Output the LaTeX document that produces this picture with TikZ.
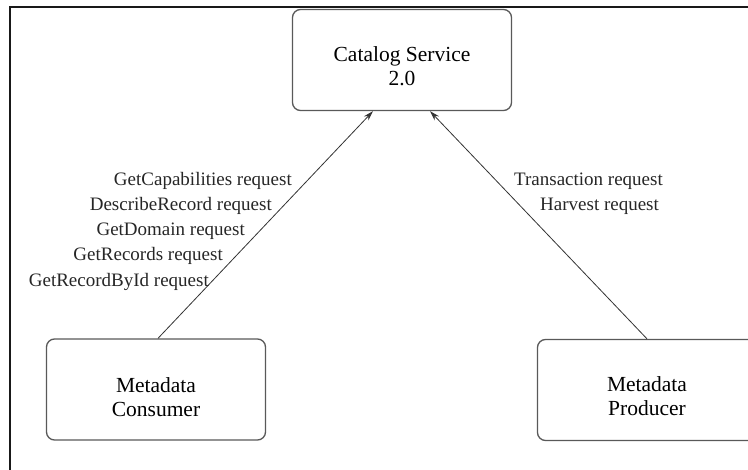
\documentclass[tikz,border=0pt]{standalone}
\usepackage{fontspec}
\setmainfont{Liberation Serif}
\usetikzlibrary{arrows.meta}
\tikzset{
  actor/.style={draw=black!65, line width=1.3pt, rounded corners=8pt, fill=white,
    inner sep=0pt, minimum width=219pt, minimum height=101pt},
  actortext/.style={align=center, inner sep=0pt, font=\fontsize{21.5}{24}\selectfont},
  msg/.style={font=\fontsize{19}{21}\selectfont, inner sep=0pt, text=black!85},
  flow/.style={draw=black!80, line width=0.8pt, -{Stealth[length=10pt,width=6pt]}},
}
\begin{document}
\begin{tikzpicture}[x=1pt,y=-1pt]
  \useasboundingbox (0,0) rectangle (748,470);
  \clip (0,0) rectangle (748,470);
  % outer frame (only the top and left edges fall inside the page)
  \draw[line width=2pt, black!90] (10,480) -- (10,7) -- (760,7);

  % services and clients
  \node[actor] (cat) at (402,60) {};
  \node[actortext] (catT) at (402,66) {Catalog Service\\2.0};
  \node[actor] (cons) at (156,389.5) {};
  \node[actortext] (consT) at (156,397) {Metadata\\Consumer};
  \node[actor] (prod) at (647,390) {};
  \node[actortext] (prodT) at (647,396) {Metadata\\Producer};

  % request flows
  \coordinate (catL) at ([xshift=-29pt]cat.south);
  \coordinate (catR) at ([xshift=28pt]cat.south);
  \draw[flow] ([xshift=2pt]cons.north) -- (catL);
  \draw[flow] (prod.north) -- (catR);

  % consumer request labels
  \node[msg, anchor=mid east] (l1) at (292,183) {GetCapabilities request};
  \node[msg, anchor=mid east] (l2) at (272,208) {DescribeRecord request};
  \node[msg, anchor=mid east] (l3) at (245,233) {GetDomain request};
  \node[msg, anchor=mid east] (l4) at (223,258) {GetRecords request};
  \node[msg, anchor=mid east] (l5) at (209,284) {GetRecordById request};

  % producer request labels
  \node[msg, anchor=mid west] (r1) at (514,183) {Transaction request};
  \node[msg, anchor=mid west] (r2) at (540,208) {Harvest request};
\end{tikzpicture}
\end{document}
